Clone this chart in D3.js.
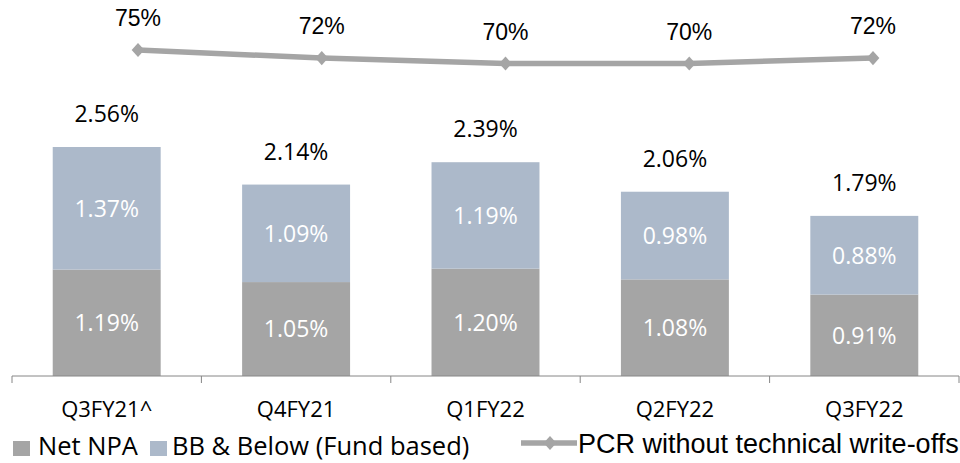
<!DOCTYPE html>
<html>
<head>
<meta charset="utf-8">
<script src="https://cdn.jsdelivr.net/npm/d3@7"></script>
<style>
  html, body { margin: 0; padding: 0; background: #fff; }
  svg { display: block; }
</style>
</head>
<body>
<svg id="chart" width="960" height="463"></svg>
<script>
// Quarterly asset quality: stacked Net NPA + BB & Below, with PCR line
const categories = ["Q3FY21^", "Q4FY21", "Q1FY22", "Q2FY22", "Q3FY22"];
const netNpa = [1.19, 1.05, 1.20, 1.08, 0.91];
const bbBelow = [1.37, 1.09, 1.19, 0.98, 0.88];
const totals = [2.56, 2.14, 2.39, 2.06, 1.79];
const pcr = [75, 72, 70, 70, 72];
const seriesNames = ["Net NPA", "BB & Below (Fund based)", "PCR without technical write-offs"];

const colNpa = "#a5a5a5";
const colBB = "#acb9ca";
const colLine = "#a5a5a5";
const bodyFont = "'Open Sans', Lato, sans-serif";
const arialLike = "'Liberation Sans', Arial, sans-serif";

const svg = d3.select("#chart");

// Category axis for the bars
const x = d3.scaleBand()
  .domain(categories)
  .range([12, 959])
  .paddingInner(0.43)
  .paddingOuter(0.215);

// Value scale for the bars (percent of advances)
const y = d3.scaleLinear().domain([0, 2.56]).range([376, 147]);

// Separate scales for the PCR line
const xLine = d3.scalePoint().domain(categories).range([138, 873]);
const yLine = d3.scaleLinear().domain([70, 75]).range([63.5, 50]);

// Stacked bars
const rows = categories.map((c, i) => ({ cat: c, npa: netNpa[i], bb: bbBelow[i], total: totals[i] }));

const g = svg.append("g");

g.selectAll("rect.npa").data(rows).enter().append("rect")
  .attr("class", "npa")
  .attr("x", d => x(d.cat))
  .attr("width", x.bandwidth())
  .attr("y", d => y(d.npa))
  .attr("height", d => y(0) - y(d.npa))
  .attr("fill", colNpa);

g.selectAll("rect.bb").data(rows).enter().append("rect")
  .attr("class", "bb")
  .attr("x", d => x(d.cat))
  .attr("width", x.bandwidth())
  .attr("y", d => y(d.npa + d.bb))
  .attr("height", d => y(d.npa) - y(d.npa + d.bb))
  .attr("fill", colBB);

// Segment labels
g.selectAll("text.npaLbl").data(rows).enter().append("text")
  .attr("x", d => x(d.cat) + x.bandwidth() / 2)
  .attr("y", d => (y(0) + y(d.npa)) / 2)
  .attr("dy", "0.36em")
  .attr("text-anchor", "middle")
  .attr("font-family", bodyFont)
  .attr("font-size", 23)
  .attr("fill", "#fff")
  .text(d => d.npa.toFixed(2) + "%");

g.selectAll("text.bbLbl").data(rows).enter().append("text")
  .attr("x", d => x(d.cat) + x.bandwidth() / 2)
  .attr("y", d => (y(d.npa) + y(d.npa + d.bb)) / 2)
  .attr("dy", "0.36em")
  .attr("text-anchor", "middle")
  .attr("font-family", bodyFont)
  .attr("font-size", 23)
  .attr("fill", "#fff")
  .text(d => d.bb.toFixed(2) + "%");

// Total labels above bars
g.selectAll("text.totLbl").data(rows).enter().append("text")
  .attr("x", d => x(d.cat) + x.bandwidth() / 2)
  .attr("y", d => y(d.total) - 25)
  .attr("text-anchor", "middle")
  .attr("font-family", bodyFont)
  .attr("font-size", 23)
  .attr("fill", "#000")
  .text(d => d.total.toFixed(2) + "%");

// Category axis line with boundary ticks
const axisY = 376;
const step = x.step();
const bounds = d3.range(categories.length + 1).map(i => 12 + i * step);
svg.append("line")
  .attr("x1", 12).attr("x2", 959)
  .attr("y1", axisY).attr("y2", axisY)
  .attr("stroke", "#868686").attr("stroke-width", 1);
svg.selectAll("line.tick").data(bounds).enter().append("line")
  .attr("x1", d => d).attr("x2", d => d)
  .attr("y1", axisY).attr("y2", axisY + 7)
  .attr("stroke", "#868686").attr("stroke-width", 1);

svg.selectAll("text.cat").data(categories).enter().append("text")
  .attr("x", d => x(d) + x.bandwidth() / 2)
  .attr("y", 417)
  .attr("text-anchor", "middle")
  .attr("font-family", bodyFont)
  .attr("font-size", 22)
  .attr("fill", "#000")
  .text(d => d);

// PCR line
const linePts = categories.map((c, i) => ({ cat: c, v: pcr[i] }));
svg.append("path")
  .datum(linePts)
  .attr("d", d3.line().x(d => xLine(d.cat)).y(d => yLine(d.v)))
  .attr("fill", "none")
  .attr("stroke", colLine)
  .attr("stroke-width", 5.5);

const diamond = d3.symbol().type(d3.symbolDiamond).size(90);
svg.selectAll("path.mk").data(linePts).enter().append("path")
  .attr("d", diamond)
  .attr("transform", d => `translate(${xLine(d.cat)},${yLine(d.v)}) scale(1.25,0.8)`)
  .attr("fill", colLine);

svg.selectAll("text.pcrLbl").data(linePts).enter().append("text")
  .attr("x", d => xLine(d.cat))
  .attr("y", d => yLine(d.v) - 24)
  .attr("text-anchor", "middle")
  .attr("font-family", arialLike)
  .attr("font-size", 23)
  .attr("fill", "#000")
  .text(d => d.v + "%");

// Legend
const lg = svg.append("g");
lg.append("rect").attr("x", 13).attr("y", 441).attr("width", 17).attr("height", 15).attr("fill", colNpa);
lg.append("text").attr("x", 38).attr("y", 455)
  .attr("font-family", bodyFont).attr("font-size", 25.5).attr("fill", "#000")
  .text(seriesNames[0]);
lg.append("rect").attr("x", 150).attr("y", 441).attr("width", 17).attr("height", 15).attr("fill", colBB);
lg.append("text").attr("x", 172).attr("y", 455)
  .attr("font-family", bodyFont).attr("font-size", 25.5).attr("fill", "#000")
  .text(seriesNames[1]);

lg.append("line").attr("x1", 521).attr("x2", 577).attr("y1", 443).attr("y2", 443)
  .attr("stroke", colLine).attr("stroke-width", 5.5);
lg.append("path").attr("d", diamond)
  .attr("transform", "translate(550,443) scale(1.25,0.8)")
  .attr("fill", colLine);
lg.append("text").attr("x", 578).attr("y", 453)
  .attr("font-family", arialLike).attr("font-size", 27).attr("fill", "#000")
  .text(seriesNames[2]);
</script>
</body>
</html>
